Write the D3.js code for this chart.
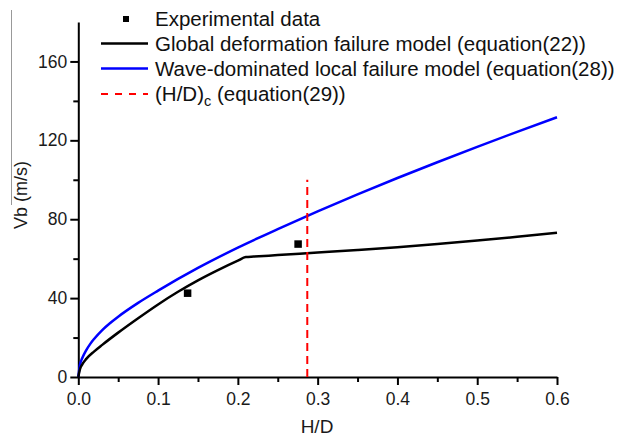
<!DOCTYPE html>
<html>
<head>
<meta charset="utf-8">
<script src="https://cdn.jsdelivr.net/npm/d3@7"></script>
<style>
  body { margin: 0; background: #fff; }
  text { font-family: "Liberation Sans", Arial, sans-serif; }
</style>
</head>
<body>
<div class="canva"></div>
<script>
// values
const globalX = [0, 0.002, 0.005, 0.01, 0.02, 0.03, 0.05, 0.075, 0.1, 0.125, 0.15, 0.175, 0.2, 0.21, 0.22, 0.25, 0.3, 0.35, 0.4, 0.45, 0.5, 0.55, 0.6];
const globalY = [0, 3.8, 6.4, 9.2, 13.0, 16.3, 22.5, 29.8, 36.8, 43.2, 49.0, 54.2, 59.0, 60.8, 61.05, 61.8, 63.1, 64.4, 65.8, 67.4, 69.2, 71.1, 73.2];

const waveX = [0, 0.002, 0.005, 0.01, 0.015, 0.02, 0.03, 0.04, 0.05, 0.075, 0.1, 0.15, 0.2, 0.25, 0.3, 0.35, 0.4, 0.45, 0.5, 0.55, 0.6];
const waveY = [0, 6.0, 9.6, 13.6, 16.8, 19.4, 23.8, 27.4, 30.6, 37.6, 43.8, 55.3, 65.6, 75.0, 84.0, 92.6, 100.9, 108.9, 116.7, 124.3, 131.7];

const expX = [0.137, 0.2755];
const expY = [42.5, 67.4];

const criticalX = 0.287;
const criticalTop = 100;

const xTicks = [0, 0.1, 0.2, 0.3, 0.4, 0.5, 0.6];
const yTicks = [0, 40, 80, 120, 160];
const legendLabels = ["Experimental data", "Global deformation failure model (equation(22))", "Wave-dominated local failure model (equation(28))", "(H/D)"];

const svg = d3.select(".canva").append("svg")
              .attr("width", 620)
              .attr("height", 438);

const x = d3.scaleLinear().domain([0, 0.6]).range([78.3, 557]);
const y = d3.scaleLinear().domain([0, 180]).range([377, 22]);

// stray border line at the far left of the figure
svg.append("line")
   .attr("x1", 11.5).attr("x2", 11.5)
   .attr("y1", 10).attr("y2", 205)
   .attr("stroke", "#999")
   .attr("stroke-width", 1);

// minor ticks
const xMinor = d3.range(0.05, 0.6, 0.1);
const yMinor = d3.range(20, 180, 40);

svg.append("g")
   .attr("transform", "translate(0,377)")
   .call(d3.axisBottom(x).tickValues(xMinor).tickSize(5).tickFormat(""))
   .call(g => g.select(".domain").remove())
   .call(g => g.selectAll("line").attr("stroke-width", 2));

svg.append("g")
   .attr("transform", "translate(78.3,0)")
   .call(d3.axisLeft(y).tickValues(yMinor).tickSize(5).tickFormat(""))
   .call(g => g.select(".domain").remove())
   .call(g => g.selectAll("line").attr("stroke-width", 2));

// major axes
const xAxis = svg.append("g")
   .attr("transform", "translate(0,377)")
   .call(d3.axisBottom(x).tickValues(xTicks).tickSize(8).tickSizeOuter(0).tickPadding(8).tickFormat(d3.format(".1f")));

const yAxis = svg.append("g")
   .attr("transform", "translate(78.3,0)")
   .call(d3.axisLeft(y).tickValues(yTicks).tickSize(8).tickSizeOuter(0).tickPadding(3));

[xAxis, yAxis].forEach(function(g){
    g.select(".domain").attr("stroke-width", 2);
    g.selectAll("line").attr("stroke-width", 2);
    g.selectAll("text")
     .attr("font-size", 17.5)
     .attr("fill", "#1a1a1a")
     .style("font-family", "'Liberation Sans', Arial, sans-serif");
});

// axis titles
svg.append("text")
   .attr("x", 317)
   .attr("y", 433)
   .attr("text-anchor", "middle")
   .attr("font-size", 19)
   .attr("fill", "#1a1a1a")
   .text("H/D");

svg.append("text")
   .attr("transform", "translate(27,195) rotate(-90)")
   .attr("text-anchor", "middle")
   .attr("font-size", 18)
   .attr("fill", "#1a1a1a")
   .text("Vb (m/s)");

// curves
const line = d3.line()
               .x(function(d){ return x(d[0]); })
               .y(function(d){ return y(d[1]); })
               .curve(d3.curveMonotoneX);

svg.append("path")
   .datum(d3.zip(waveX, waveY))
   .attr("d", line)
   .attr("fill", "none")
   .attr("stroke", "#0000ff")
   .attr("stroke-width", 2.5);

svg.append("path")
   .datum(d3.zip(globalX, globalY))
   .attr("d", line)
   .attr("fill", "none")
   .attr("stroke", "#000")
   .attr("stroke-width", 2.5);

svg.append("line")
   .attr("x1", x(criticalX)).attr("x2", x(criticalX))
   .attr("y1", y(0)).attr("y2", y(criticalTop))
   .attr("stroke", "#ff0000")
   .attr("stroke-width", 2)
   .attr("stroke-dasharray", "8,5");

svg.selectAll("rect.exp")
   .data(d3.zip(expX, expY))
   .enter().append("rect")
   .attr("class", "exp")
   .attr("x", function(d){ return x(d[0]) - 3.75; })
   .attr("y", function(d){ return y(d[1]) - 3.75; })
   .attr("width", 7.5)
   .attr("height", 7.5)
   .attr("fill", "#000");

// legend
const legend = svg.append("g");
const rowY = [19, 43.5, 68.5, 94];

legend.append("rect")
      .attr("x", 123).attr("y", rowY[0] - 3)
      .attr("width", 6).attr("height", 6)
      .attr("fill", "#000");

legend.append("line")
      .attr("x1", 101).attr("x2", 148).attr("y1", rowY[1]).attr("y2", rowY[1])
      .attr("stroke", "#000").attr("stroke-width", 2.5);

legend.append("line")
      .attr("x1", 101).attr("x2", 148).attr("y1", rowY[2]).attr("y2", rowY[2])
      .attr("stroke", "#0000ff").attr("stroke-width", 2.5);

legend.append("line")
      .attr("x1", 101).attr("x2", 148).attr("y1", rowY[3]).attr("y2", rowY[3])
      .attr("stroke", "#ff0000").attr("stroke-width", 2)
      .attr("stroke-dasharray", "7,7");

legend.selectAll("text.lab")
      .data(legendLabels)
      .enter().append("text")
      .attr("class", "lab")
      .attr("x", 155)
      .attr("y", function(d, i){ return rowY[i] + 7; })
      .attr("font-size", 20.5)
      .attr("fill", "#111")
      .each(function(d, i){
          const t = d3.select(this);
          t.append("tspan").text(d);
          if (i === 3) {
              t.append("tspan").attr("font-size", 14.5).attr("dy", 5).text("c");
              t.append("tspan").attr("dy", -5).text(" (equation(29))");
          }
      });
</script>
</body>
</html>
